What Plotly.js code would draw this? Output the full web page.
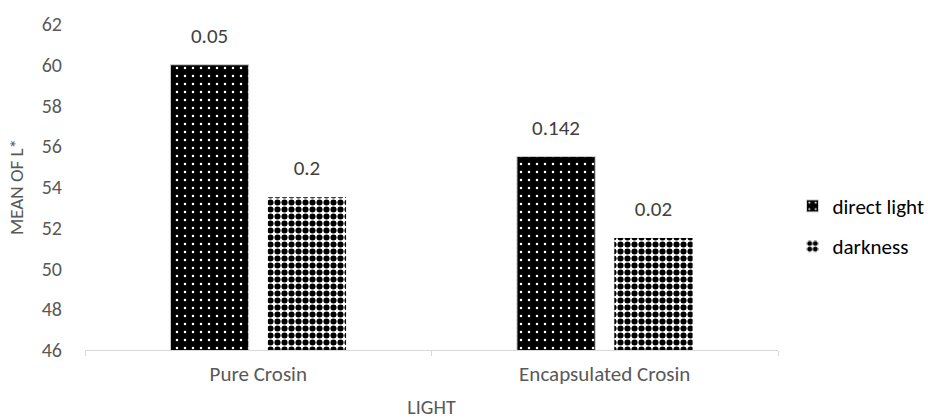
<!DOCTYPE html>
<html><head><meta charset="utf-8">
<script src="https://cdn.plot.ly/plotly-3.0.1.min.js"></script>
<style>body{margin:0;background:#fff}#c{width:928px;height:419px}</style>
</head><body><div id="c"></div>
<script>
const categories = ["Pure Crosin", "Encapsulated Crosin"];
const directLight = [60, 55.5];
const darkness = [53.5, 51.5];
const directLabels = ["0.05", "0.142"];
const darknessLabels = ["0.2", "0.02"];
const yTicks = [46, 48, 50, 52, 54, 56, 58, 60, 62];

const font = "Calibri, Carlito, 'Liberation Sans', 'DejaVu Sans', sans-serif";
const labelFont = {size: 21, color: "#404040", family: font};

function labelTrace(name, y, text) {
  return {
    type: "scatter", mode: "markers+text", x: categories, y: y, text: text,
    textposition: "top center", textfont: labelFont, cliponaxis: false,
    offsetgroup: name, alignmentgroup: "g", showlegend: false, hoverinfo: "skip",
    legendgroup: name,
    marker: {size: 25, opacity: 0, color: "#fff"}
  };
}

const traces = [
  {
    type: "bar", name: "direct light", x: categories, y: directLight,
    offsetgroup: "a", alignmentgroup: "g", legendgroup: "a",
    marker: {color: "#000", line: {color: "#d0d0d0", width: 1},
      pattern: {shape: ".", fgcolor: "#ffffff", bgcolor: "#000000", size: 8, solidity: 0.08, fillmode: "replace"}}
  },
  {
    type: "bar", name: "darkness", x: categories, y: darkness,
    offsetgroup: "b", alignmentgroup: "g", legendgroup: "b",
    marker: {color: "#fff", line: {color: "#ffffff", width: 0},
      pattern: {shape: ".", fgcolor: "#000000", bgcolor: "#ffffff", size: 7, solidity: 0.6, fillmode: "replace"}}
  },
  labelTrace("a", directLight, directLabels),
  labelTrace("b", darkness, darknessLabels)
];

const layout = {
  width: 928, height: 419,
  margin: {l: 85, r: 150, t: 24, b: 69},
  paper_bgcolor: "#fff", plot_bgcolor: "#fff",
  barmode: "group", bargap: 0.438, bargroupgap: 0.196,
  scattermode: "group", scattergap: 0.438,
  font: {family: font, color: "#595959", size: 20},
  xaxis: {
    type: "category", showline: true, linecolor: "#d9d9d9", linewidth: 1,
    ticks: "outside", tickson: "boundaries", ticklen: 5, tickcolor: "#d9d9d9",
    ticklabelstandoff: 5,
    tickfont: {size: 21, color: "#595959"},
    title: {text: "LIGHT", font: {size: 20, color: "#595959"}, standoff: 20}
  },
  yaxis: {
    range: [46, 62], tickvals: yTicks, showgrid: false, zeroline: false, showline: false,
    tickfont: {size: 20, color: "#595959"}, ticks: "", ticklabelstandoff: 22,
    title: {text: "MEAN OF L*", font: {size: 19, color: "#595959"}, standoff: 13}
  },
  showlegend: true,
  legend: {xref: "container", yref: "container", x: 0.854, xanchor: "left", y: 0.46, yanchor: "middle",
    itemwidth: 30, font: {size: 21, color: "#000"}, tracegroupgap: 10, traceorder: "grouped"}
};

Plotly.newPlot("c", traces, layout, {displayModeBar: false, staticPlot: true});
</script></body></html>
